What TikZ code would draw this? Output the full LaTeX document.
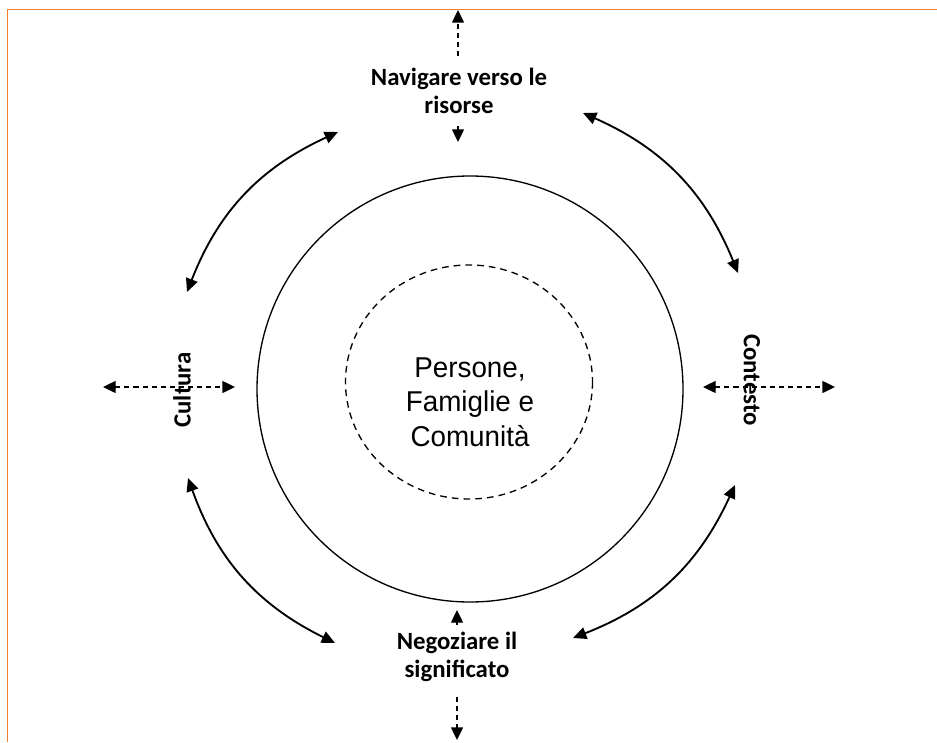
\documentclass[tikz,border=0pt]{standalone}
\usepackage{fontspec}
\setmainfont{Carlito}
\newfontfamily\arialf{Liberation Sans}
\usetikzlibrary{arrows.meta}
\definecolor{bord}{RGB}{237,125,49}
\begin{document}
\begin{tikzpicture}[x=0.75pt,y=-0.75pt,
  lbl/.style={font=\bfseries\fontsize{18.6}{20.5}\selectfont, align=center, inner sep=1pt},
  ctr/.style={font=\arialf\fontsize{21.5}{26}\selectfont, align=center},
  dasharrow/.style={line width=1pt, dash pattern=on 3.8pt off 3pt, -{Triangle[length=9.5pt,width=9pt]}},
  dashboth/.style={line width=1pt, dash pattern=on 3.8pt off 3pt, {Triangle[length=9.5pt,width=9pt]}-{Triangle[length=9.5pt,width=9pt]}},
  curvarrow/.style={line width=1.4pt, {Triangle[length=10pt,width=9pt]}-{Triangle[length=10pt,width=9pt]}},
  ring/.style={line width=1pt}]
\useasboundingbox (0,0) rectangle (937,742);
\draw[bord, line width=0.9pt] (937,9.5) -- (7.5,9.5) -- (7.5,742);

% circles
\draw[ring] (470,389) circle[radius=213];
\draw[ring, dash pattern=on 5pt off 3.8pt] (469,382) ellipse[x radius=123.5, y radius=117];
\node[ctr, xscale=0.97] (center) at (470,402) {Persone,\\Famiglie e\\Comunità};

% labels
\node[lbl] (nav) at (459,91) {Navigare verso le\\risorse};
\node[lbl] (neg) at (457,657) {Negoziare il\\significato};
\node[lbl, rotate=90] (cul) at (182,390) {Cultura};
\node[lbl, rotate=-90] (con) at (752,380) {Contesto};

% straight dashed arrows
\coordinate (nt1) at (458,56); \coordinate (nt2) at (458,10);
\coordinate (nb1) at (458,126); \coordinate (nb2) at (458,142);
\coordinate (gt1) at (457,625); \coordinate (gt2) at (457,610);
\coordinate (gb1) at (457,697); \coordinate (gb2) at (457,740);
\coordinate (cl1) at (103,387); \coordinate (cl2) at (235,387);
\coordinate (cr1) at (703,387); \coordinate (cr2) at (835,387);
\draw[dasharrow] (nt1) -- (nt2);
\draw[dasharrow] (nb1) -- (nb2);
\draw[dasharrow] (gt1) -- (gt2);
\draw[dasharrow] (gb1) -- (gb2);
\draw[dashboth] (cl1) -- (cl2);
\draw[dashboth] (cr1) -- (cr2);

% curved double arrows
\coordinate (ul1) at (187,292); \coordinate (ul2) at (338,132);
\coordinate (ur1) at (583,113); \coordinate (ur2) at (738,273);
\coordinate (lr1) at (735,485); \coordinate (lr2) at (573,638);
\coordinate (ll1) at (335,643); \coordinate (ll2) at (188,478);
\draw[curvarrow] (ul1) to[bend left=22] (ul2);
\draw[curvarrow] (ur1) to[bend left=22] (ur2);
\draw[curvarrow] (lr1) to[bend left=22] (lr2);
\draw[curvarrow] (ll1) to[bend left=22] (ll2);
\end{tikzpicture}
\end{document}
